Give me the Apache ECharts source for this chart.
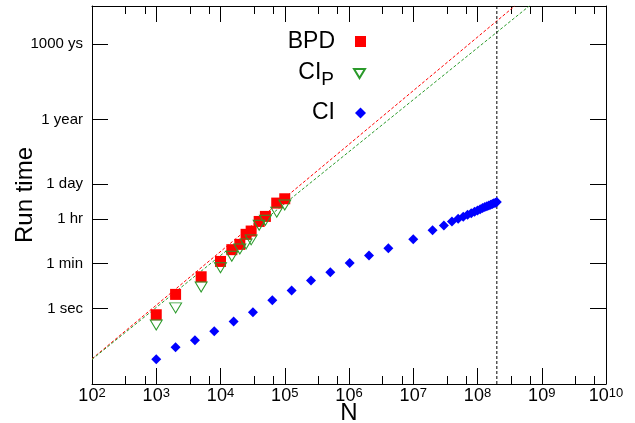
<!DOCTYPE html>
<html><head><meta charset="utf-8">
<script src="https://cdn.jsdelivr.net/npm/echarts@6/dist/echarts.min.js"></script>
<style>html,body{margin:0;padding:0;background:#fff}#c{width:635px;height:423px}</style>
</head><body><div id="c"></div>
<script>
// ---- data (N, run time in seconds) ----
const N_BPD = [1e3, 2e3, 5e3, 1e4, 1.5e4, 2e4, 2.5e4, 3e4, 4e4, 5e4, 7.5e4, 1e5];
const T_BPD = [0.56, 3.6, 18, 73, 214, 347, 870, 1175, 2820, 4470, 15100, 22400];
const N_CIP = [1e3, 2e3, 5e3, 1e4, 1.5e4, 2e4, 2.5e4, 3e4, 4e4, 5e4, 7.5e4, 1e5];
const T_CIP = [0.22, 1.05, 7.1, 41, 117, 229, 363, 525, 2000, 3160, 6600, 12600];
const N_CI = [1e3, 2e3, 4e3, 8e3, 1.6e4, 3.2e4, 6.4e4, 1.28e5, 2.56e5, 5.12e5, 1.024e6, 2.048e6, 4.096e6,
  1e7, 2e7, 3e7, 4e7, 5e7, 6e7, 7e7, 8e7, 9e7, 1e8, 1.1e8, 1.2e8, 1.3e8, 1.4e8, 1.5e8, 1.6e8, 1.7e8, 1.8e8, 1.9e8, 2e8];
const T_CI = [0.0095, 0.029, 0.054, 0.123, 0.30, 0.71, 2.1, 5.1, 12.9, 27.5, 63, 126, 245,
  550, 1260, 1950, 2820, 3630, 4370, 5250, 6030, 6920, 7760, 8510, 9550, 10500, 11200, 12000, 12900, 13800, 14800, 15500, 16600];
const FIT_BPD_N = [1e2, 3.8e8];
const FIT_BPD_T = [0.01, 1e12];
const FIT_CIP_N = [1e2, 6.4e8];
const FIT_CIP_T = [0.0095, 1e12];
const VLINE_N = 2e8;
const Y_TICK_SECONDS = [1, 60, 3600, 86400, 31557600, 31557600000];
const Y_TICK_LABELS = ['1 sec', '1 min', '1 hr', '1 day', '1 year', '1000 ys'];
const X_MIN_EXP = 2, X_MAX_EXP = 10;
const Y_MIN_EXP = -3, Y_MAX_EXP = 12;

const L = Math.log10;
const FONT = '"Liberation Sans", Arial, Helvetica, sans-serif';
const pts = (ns, ts) => ns.map((n, i) => [L(n), L(ts[i])]);
const minorVals = [];
for (let k = X_MIN_EXP; k < X_MAX_EXP; k++) { minorVals.push(k + L(10 / 3), k + L(20 / 3)); }
const yTickVals = Y_TICK_SECONDS.map(L);

const black = { color: '#000', width: 1 };
const baseX = { type: 'value', min: X_MIN_EXP, max: X_MAX_EXP, interval: 1, splitLine: { show: false } };
const baseY = { type: 'value', min: Y_MIN_EXP, max: Y_MAX_EXP, splitLine: { show: false } };

const legendBase = {
  orient: 'vertical', align: 'right', right: 269, padding: 0,
  itemWidth: 11, itemHeight: 11, selectedMode: false,
  textStyle: { fontSize: 23, fontFamily: FONT, color: '#000', lineHeight: 24, padding: [0, 15, 0, 0] }
};

const option = {
  animation: false,
  backgroundColor: '#fff',
  grid: { left: 92, right: 29, top: 6, bottom: 39, containLabel: false, outerBoundsMode: 'none' },
  xAxis: [
    Object.assign({}, baseX, {
      position: 'bottom', axisLine: { onZero: false, lineStyle: black },
      axisTick: { inside: true, length: 16, lineStyle: black },
      axisLabel: {
        margin: 3, color: '#000',
        formatter: v => '{b|10}{s|' + v + '}',
        rich: {
          b: { fontSize: 18, fontFamily: FONT, color: '#000', lineHeight: 22, verticalAlign: 'top' },
          s: { fontSize: 13, fontFamily: FONT, color: '#000', lineHeight: 9, verticalAlign: 'top' }
        }
      },
      name: 'N', nameLocation: 'middle', nameGap: 17, nameMoveOverlap: false,
      nameTextStyle: { fontSize: 24, fontFamily: FONT, color: '#000', verticalAlign: 'top' }
    }),
    Object.assign({}, baseX, {
      position: 'bottom', axisLine: { show: false, onZero: false },
      axisTick: { inside: true, length: 8, lineStyle: black, customValues: minorVals },
      axisLabel: { show: false }
    }),
    Object.assign({}, baseX, {
      position: 'top', axisLine: { onZero: false, lineStyle: black },
      axisTick: { inside: true, length: 16, lineStyle: black },
      axisLabel: { show: false }
    }),
    Object.assign({}, baseX, {
      position: 'top', axisLine: { show: false, onZero: false },
      axisTick: { inside: true, length: 8, lineStyle: black, customValues: minorVals },
      axisLabel: { show: false }
    })
  ],
  yAxis: [
    Object.assign({}, baseY, {
      position: 'left', axisLine: { onZero: false, lineStyle: black },
      axisTick: { inside: true, length: 16, lineStyle: black, customValues: yTickVals },
      axisLabel: {
        customValues: yTickVals, margin: 9, fontSize: 15, fontFamily: FONT, color: '#000',
        formatter: v => {
          let best = 0;
          yTickVals.forEach((t, i) => { if (Math.abs(t - v) < Math.abs(yTickVals[best] - v)) best = i; });
          return Y_TICK_LABELS[best];
        }
      },
      name: 'Run time', nameLocation: 'middle', nameGap: 55, nameRotate: 90, nameMoveOverlap: false,
      nameTextStyle: { fontSize: 24, fontFamily: FONT, color: '#000' }
    }),
    Object.assign({}, baseY, {
      position: 'right', axisLine: { onZero: false, lineStyle: black },
      axisTick: { inside: true, length: 16, lineStyle: black, customValues: yTickVals },
      axisLabel: { show: false }
    })
  ],
  legend: [
    Object.assign({}, legendBase, { data: ['BPD'], top: 29.5 }),
    Object.assign({}, legendBase, {
      data: [{ name: 'CIP', icon: 'path://M0,0L12,0L6,10Z' }], top: 61.5,
      formatter: () => '{a|CI}{p|P}',
      textStyle: Object.assign({}, legendBase.textStyle, {
        rich: {
          a: { fontSize: 23, fontFamily: FONT, color: '#000', lineHeight: 24, verticalAlign: 'top' },
          p: { fontSize: 19, fontFamily: FONT, color: '#000', lineHeight: 24, padding: [9, 0, 0, 0], verticalAlign: 'top' }
        }
      })
    }),
    Object.assign({}, legendBase, { data: ['CI'], top: 101 })
  ],
  series: [
    { name: 'BPD fit', type: 'line', data: pts(FIT_BPD_N, FIT_BPD_T), symbol: 'none', z: 1,
      lineStyle: { color: '#ff0000', width: 1, type: [3, 2] } },
    { name: 'CIP fit', type: 'line', data: pts(FIT_CIP_N, FIT_CIP_T), symbol: 'none', z: 1,
      lineStyle: { color: '#2a9a2a', width: 1, type: [3, 2] } },
    { name: 'limit', type: 'line', data: [[L(VLINE_N), Y_MIN_EXP], [L(VLINE_N), Y_MAX_EXP]], symbol: 'none', z: 1,
      lineStyle: { color: '#000', width: 1, type: [3, 2] } },
    { name: 'BPD', type: 'scatter', data: pts(N_BPD, T_BPD), symbol: 'rect', symbolSize: 11, z: 3,
      itemStyle: { color: '#ff0000', opacity: 1 } },
    { name: 'CIP', type: 'scatter', data: pts(N_CIP, T_CIP), symbol: 'triangle', symbolRotate: 180, symbolSize: [12, 10], z: 4,
      itemStyle: { color: 'rgba(255,255,255,0)', borderColor: '#2a9a2a', borderWidth: 1, opacity: 1 } },
    { name: 'CI', type: 'scatter', data: pts(N_CI, T_CI), symbol: 'diamond', symbolSize: 10, z: 3,
      itemStyle: { color: '#0000ff', opacity: 1 } }
  ]
};
const chart = echarts.init(document.getElementById('c'), null, { renderer: 'canvas' });
chart.setOption(option);
</script>
</body></html>
